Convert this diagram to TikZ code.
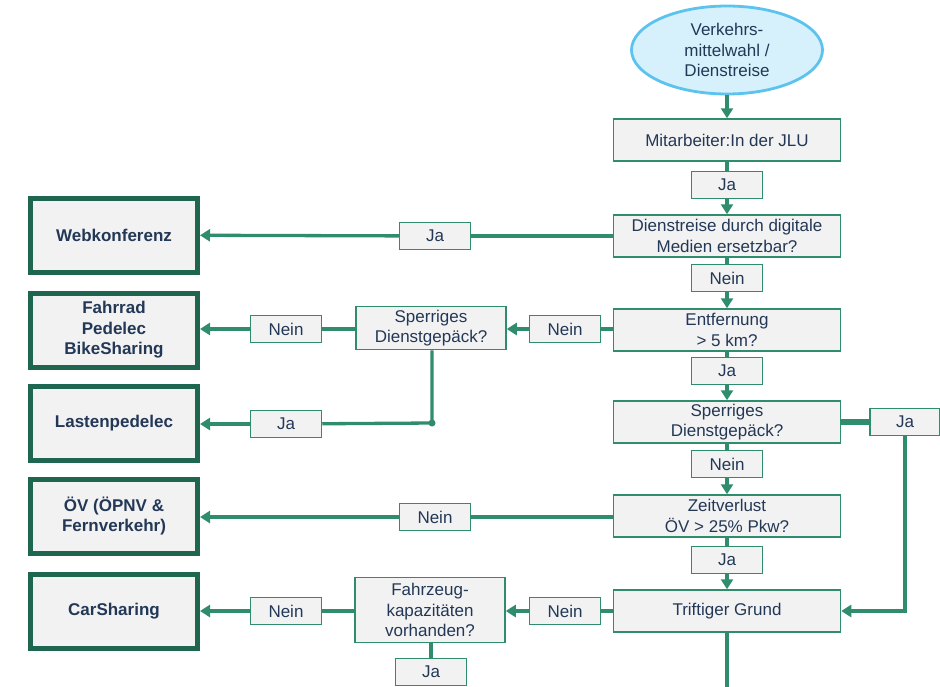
\documentclass[tikz,border=0pt]{standalone}
\usepackage{fontspec}
\setmainfont{Liberation Sans}
\usetikzlibrary{positioning,shapes.geometric,arrows.meta}
\definecolor{sky}{HTML}{D7F1FC}
\definecolor{skyB}{HTML}{5CC3EE}
\definecolor{panel}{HTML}{F2F2F2}
\definecolor{flow}{HTML}{2F8C6C}
\definecolor{flowD}{HTML}{1E664F}
\definecolor{ink}{HTML}{233856}

\begin{document}
\begin{tikzpicture}[
    x=1pt, y=1pt,
    every node/.style={font=\fontsize{17}{20.5}\selectfont, text=ink, align=center},
    startnode/.style={ellipse, draw=skyB, fill=sky, line width=2.8pt,
                      minimum width=191pt, minimum height=88pt, inner sep=0pt},
    askbox/.style={draw=flow, fill=panel, line width=1.5pt, inner sep=1pt,
                   minimum width=227pt, minimum height=42pt},
    sidebox/.style={draw=flow, fill=panel, line width=1.5pt, inner sep=1pt,
                    minimum width=150pt, minimum height=43pt},
    tagbox/.style={draw=flow, fill=panel, line width=1.5pt, inner sep=1pt,
                   minimum width=71pt, minimum height=27pt},
    endbox/.style={draw=flowD, fill=panel, line width=5pt, inner sep=1pt,
                   minimum width=167pt, minimum height=74pt,
                   font=\fontsize{17}{20.5}\selectfont\bfseries},
    link/.style={draw=flow, line width=3.3pt},
    go/.style={link, -{Triangle[length=10pt,width=12pt]}},
  ]
  \useasboundingbox (0,0) rectangle (940,-686);

  % main column
  \node[startnode] (start) at (727,-50) {Verkehrs-\\mittelwahl /\\Dienstreise};
  \node[askbox] (staff) at (727,-140) {Mitarbeiter:In der JLU};
  \node[tagbox] (ja1) at (727,-185) {Ja};
  \node[askbox] (digital) at (727,-236) {Dienstreise durch digitale\\Medien ersetzbar?};
  \node[tagbox] (nein1) at (727,-278) {Nein};
  \node[askbox] (dist) at (727,-330) {Entfernung\\> 5 km?};
  \node[tagbox] (ja2) at (727,-371) {Ja};
  \node[askbox] (bulkR) at (727,-422) {Sperriges\\Dienstgepäck?};
  \node[tagbox] (nein2) at (727,-464) {Nein};
  \node[askbox] (time) at (727,-516) {Zeitverlust\\ÖV > 25\% Pkw?};
  \node[tagbox] (ja3) at (727,-560) {Ja};
  \node[askbox] (reason) at (727,-611) {Triftiger Grund};
  \coordinate (bottom) at (727,-690);

  % right branch
  \node[tagbox, minimum width=70pt] (jaR) at (905,-422) {Ja};

  % middle column
  \node[tagbox] (jaWeb) at (435,-236) {Ja};
  \node[tagbox] (neinDist) at (565,-329) {Nein};
  \node[sidebox] (bulkL) at (431,-328) {Sperriges\\Dienstgepäck?};
  \node[tagbox] (neinBike) at (286,-329) {Nein};
  \coordinate (fork) at (432,-423);
  \node[tagbox] (jaCargo) at (286,-424) {Ja};
  \node[tagbox] (neinOEV) at (435,-517) {Nein};
  \node[tagbox] (neinReason) at (565,-611) {Nein};
  \node[sidebox, minimum height=65pt] (cars) at (430,-610) {Fahrzeug-\\kapazitäten\\vorhanden?};
  \node[tagbox] (neinCar) at (286,-611) {Nein};
  \node[tagbox] (jaCars) at (431,-672) {Ja};

  % outcomes
  \node[endbox] (web) at (114,-235) {Webkonferenz};
  \node[endbox] (bike) at (114,-330) {Fahrrad\\Pedelec\\BikeSharing};
  \node[endbox] (cargo) at (114,-423) {Lastenpedelec};
  \node[endbox] (oev) at (114,-516) {ÖV (ÖPNV \&\\Fernverkehr)};
  \node[endbox] (carshare) at (114,-611) {CarSharing};

  % connectors down the main column
  \draw[go] (start) -- (staff);
  \draw[link] (staff) -- (ja1);
  \draw[go] (ja1) -- (digital);
  \draw[link] (digital) -- (nein1);
  \draw[go] (nein1) -- (dist);
  \draw[link] (dist) -- (ja2);
  \draw[go] (ja2) -- (bulkR);
  \draw[link] (bulkR) -- (nein2);
  \draw[go] (nein2) -- (time);
  \draw[link] (time) -- (ja3);
  \draw[go] (ja3) -- (reason);
  \draw[link] (reason) -- (bottom);

  % right side loop
  \draw[link, line width=6pt] (bulkR) -- (jaR);
  \draw[go] (jaR) |- (reason);

  % branches to the left
  \draw[link] (digital) -- (jaWeb);
  \draw[go] (jaWeb) -- (web);
  \draw[link] (dist.west |- neinDist) -- (neinDist);
  \draw[go] (neinDist) -- (bulkL.east |- neinDist);
  \draw[link] (bulkL.west |- neinBike) -- (neinBike);
  \draw[go] (neinBike) -- (bike.east |- neinBike);
  \draw[link] (bulkL.south -| fork) -- (fork) -- (jaCargo);
  \fill[flow] (fork) circle (3.5pt);
  \draw[go] (jaCargo) -- (cargo.east |- jaCargo);
  \draw[link] (time.west |- neinOEV) -- (neinOEV);
  \draw[go] (neinOEV) -- (oev.east |- neinOEV);
  \draw[link] (reason) -- (neinReason);
  \draw[go] (neinReason) -- (cars.east |- neinReason);
  \draw[link] (cars.west |- neinCar) -- (neinCar);
  \draw[go] (neinCar) -- (carshare.east |- neinCar);
  \draw[link] (cars.south -| jaCars) -- (jaCars);
\end{tikzpicture}
\end{document}
